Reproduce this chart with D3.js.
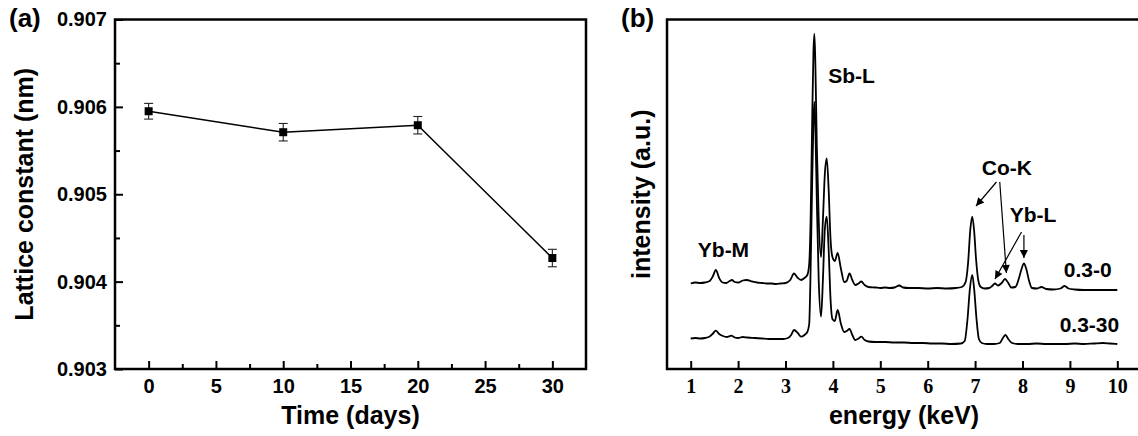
<!DOCTYPE html>
<html lang="en">
<head>
<meta charset="UTF-8">
<title>Lattice constant and EDS spectra</title>
<script src="https://d3js.org/d3.v7.min.js"></script>
<style>
  body { margin: 0; background: #fff; }
  svg { display: block; font-family: "Liberation Sans", Arial, sans-serif; font-weight: bold; }
  .frame { fill: none; stroke: #000; stroke-width: 2.5px; }
  .domain { display: none; }
  .tick line { stroke: #000; stroke-width: 2px; }
  .axA text { font-size: 20px; fill: #000; }
  .axB text { font-family: "Liberation Serif", "Times New Roman", serif; font-size: 20px; fill: #000; }
  .title { font-size: 25px; }
  .panel { font-size: 26px; }
  .note { font-size: 21px; }
  .spec { fill: none; stroke: #000; stroke-width: 1.8px; }
  .arrow { stroke: #000; stroke-width: 1.2px; }
</style>
</head>
<body>
<svg width="1138" height="436"></svg>
<script>
// panel (a): lattice constant vs time
const days = [0, 10, 20, 30];
const lattice = [0.90595, 0.90571, 0.90579, 0.90427];
const latticeErr = [0.00009, 0.0001, 0.0001, 0.0001];
const dayTicks = [0, 5, 10, 15, 20, 25, 30];
const latticeTicks = [0.903, 0.904, 0.905, 0.906, 0.907];

// panel (b): EDS spectra, [energy keV, intensity a.u.] (0.3-0 shifted up)
const spec0 = [
  [1.00, 85.5], [1.10, 86.5], [1.20, 86], [1.30, 86.5], [1.40, 88], [1.47, 93], [1.53, 99],
  [1.60, 91], [1.67, 86.5], [1.75, 86], [1.82, 88], [1.87, 89], [1.93, 87], [2.00, 86.5],
  [2.10, 88.5], [2.18, 89], [2.30, 87.5], [2.40, 86.5], [2.50, 86], [2.60, 85.5], [2.70, 85.5],
  [2.80, 85], [2.90, 85.5], [3.00, 86], [3.10, 89], [3.18, 95.5], [3.26, 91], [3.33, 89],
  [3.40, 91], [3.46, 94], [3.50, 105], [3.53, 150], [3.56, 240], [3.59, 318], [3.61, 335],
  [3.63, 305], [3.66, 225], [3.70, 150], [3.75, 112], [3.79, 150], [3.83, 195], [3.87, 210.7],
  [3.91, 180], [3.95, 130], [3.99, 112], [4.04, 108], [4.10, 116], [4.17, 100], [4.24, 87],
  [4.29, 88], [4.35, 95.5], [4.41, 89], [4.47, 84], [4.54, 85.5], [4.60, 87.5], [4.67, 84],
  [4.75, 82], [4.90, 81.5], [5.00, 81], [5.10, 81.5], [5.20, 81], [5.30, 81.5], [5.40, 83.5],
  [5.48, 81.5], [5.60, 81], [5.80, 81], [6.00, 80.5], [6.20, 81], [6.40, 80.5], [6.60, 81],
  [6.72, 82], [6.80, 87], [6.85, 105], [6.90, 140], [6.94, 152.3], [6.98, 138], [7.02, 110],
  [7.07, 88], [7.12, 82], [7.20, 80.5], [7.30, 81], [7.36, 83], [7.42, 85.5], [7.48, 83.5],
  [7.56, 86], [7.63, 90], [7.70, 86], [7.76, 81.5], [7.85, 82], [7.92, 90], [7.98, 100],
  [8.03, 105.7], [8.08, 100], [8.14, 88], [8.20, 81], [8.30, 80.5], [8.40, 82], [8.50, 80],
  [8.65, 79.5], [8.80, 80.5], [8.89, 83], [8.97, 80.5], [9.10, 79.5], [9.30, 79], [9.50, 79],
  [9.70, 79], [9.90, 79], [10.00, 79]
];
const spec30 = [
  [1.00, 30.5], [1.10, 31], [1.20, 30.5], [1.30, 31], [1.40, 32.5], [1.46, 35], [1.53, 38.3],
  [1.60, 35], [1.68, 33], [1.76, 32], [1.86, 33.3], [1.93, 31.5], [2.00, 31], [2.10, 32],
  [2.20, 31.5], [2.35, 31], [2.50, 30.5], [2.65, 30], [2.80, 30], [2.95, 30], [3.05, 31],
  [3.12, 34], [3.18, 39], [3.26, 36], [3.33, 32.3], [3.40, 34], [3.46, 37], [3.50, 45],
  [3.53, 100], [3.56, 180], [3.59, 248], [3.61, 267], [3.63, 242], [3.66, 170], [3.70, 90],
  [3.75, 52.3], [3.79, 90], [3.83, 140], [3.87, 152.3], [3.91, 120], [3.95, 70], [3.99, 50],
  [4.04, 48], [4.10, 59], [4.17, 45], [4.24, 37], [4.29, 38], [4.35, 40], [4.41, 34],
  [4.47, 29], [4.54, 30.5], [4.60, 32.3], [4.67, 29], [4.75, 27.5], [4.90, 27], [5.10, 27],
  [5.30, 26.5], [5.50, 26.5], [5.70, 26], [5.90, 26], [6.10, 25.5], [6.30, 25.5], [6.50, 25],
  [6.70, 25.5], [6.78, 28], [6.84, 50], [6.89, 80], [6.94, 94], [6.98, 80], [7.03, 50],
  [7.08, 30], [7.14, 26], [7.25, 25], [7.40, 25], [7.52, 26], [7.60, 32], [7.64, 34],
  [7.70, 30], [7.78, 26], [7.90, 25], [8.10, 25], [8.30, 25.5], [8.50, 25], [8.70, 25],
  [8.90, 25], [9.10, 25.5], [9.30, 25], [9.50, 25.5], [9.70, 26], [9.85, 25.5], [10.00, 25]
];
const energyTicks = [1, 2, 3, 4, 5, 6, 7, 8, 9, 10];

// annotations in data units
const peakNotes = [
  {text: "Sb-L", e: 3.90, i: 286, anchor: "start"},
  {text: "Yb-M", e: 1.15, i: 112, anchor: "start"},
  {text: "Co-K", e: 7.14, i: 194, anchor: "start"},
  {text: "Yb-L", e: 7.73, i: 147, anchor: "start"},
  {text: "0.3-0", e: 9.88, i: 92, anchor: "end"},
  {text: "0.3-30", e: 10.04, i: 37, anchor: "end"}
];
const arrows = [
  [7.45, 187, 7.02, 163],
  [7.52, 187, 7.66, 96],
  [7.98, 137, 7.42, 90],
  [8.03, 134, 8.03, 111]
];

const svg = d3.select("svg");

svg.append("defs").append("marker")
  .attr("id", "head").attr("viewBox", "0 0 10 10")
  .attr("refX", 10).attr("refY", 5)
  .attr("markerWidth", 10).attr("markerHeight", 8)
  .attr("markerUnits", "userSpaceOnUse")
  .attr("orient", "auto")
  .append("path").attr("d", "M0,0L10,5L0,10Z").attr("fill", "#000");

// ---------- panel (a) ----------
const ax = {left: 115, right: 586, top: 19.5, bottom: 369};
const xA = d3.scaleLinear().domain([-2.5, 32.5]).range([ax.left, ax.right]);
const yA = d3.scaleLinear().domain([0.903, 0.907]).range([ax.bottom, ax.top]);

const gA = svg.append("g");

gA.append("g").attr("class", "axA")
  .attr("transform", "translate(0," + ax.bottom + ")")
  .call(d3.axisBottom(xA).tickValues(dayTicks).tickSize(-8).tickPadding(10).tickFormat(d3.format("d")));
gA.append("g").attr("class", "axA")
  .attr("transform", "translate(0," + ax.bottom + ")")
  .call(d3.axisBottom(xA).tickValues(d3.range(2.5, 30, 5)).tickSize(-5).tickFormat(""));
gA.append("g").attr("class", "axA")
  .attr("transform", "translate(" + ax.left + ",0)")
  .call(d3.axisLeft(yA).tickValues(latticeTicks).tickSize(-8).tickPadding(8).tickFormat(d3.format(".3f")));
gA.append("g").attr("class", "axA")
  .attr("transform", "translate(" + ax.left + ",0)")
  .call(d3.axisLeft(yA).tickValues(d3.range(0.9035, 0.907, 0.001)).tickSize(-5).tickFormat(""));

gA.append("rect").attr("class", "frame")
  .attr("x", ax.left).attr("y", ax.top)
  .attr("width", ax.right - ax.left).attr("height", ax.bottom - ax.top);

const pts = days.map((d, k) => ({d: d, v: lattice[k], e: latticeErr[k]}));

gA.append("path").datum(pts)
  .attr("fill", "none").attr("stroke", "#000").attr("stroke-width", 1.5)
  .attr("d", d3.line().x(p => xA(p.d)).y(p => yA(p.v)));

const eb = gA.append("g").attr("stroke", "#222").attr("stroke-width", 1.1);
pts.forEach(p => {
  const x = xA(p.d);
  eb.append("line").attr("x1", x).attr("x2", x).attr("y1", yA(p.v - p.e)).attr("y2", yA(p.v + p.e));
  [p.v - p.e, p.v + p.e].forEach(v => {
    eb.append("line").attr("x1", x - 4.5).attr("x2", x + 4.5).attr("y1", yA(v)).attr("y2", yA(v));
  });
});

gA.selectAll("rect.pt").data(pts).join("rect").attr("class", "pt")
  .attr("x", p => xA(p.d) - 4).attr("y", p => yA(p.v) - 4)
  .attr("width", 8).attr("height", 8).attr("fill", "#000");

gA.append("text").attr("class", "title")
  .attr("x", (ax.left + ax.right) / 2).attr("y", 424)
  .attr("text-anchor", "middle").text("Time (days)");
gA.append("text").attr("class", "title")
  .attr("transform", "translate(33," + ((ax.top + ax.bottom) / 2) + ") rotate(-90)")
  .attr("text-anchor", "middle").text("Lattice constant (nm)");
gA.append("text").attr("class", "panel").attr("x", 9).attr("y", 27).text("(a)");

// ---------- panel (b) ----------
const bx = {left: 667, right: 1141, top: 19.5, bottom: 369};
const xB = d3.scaleLinear().domain([0.5, 10.5]).range([bx.left, bx.right]);
const yB = d3.scaleLinear().domain([0, 349.5]).range([bx.bottom, bx.top]);

const gB = svg.append("g");

gB.append("g").attr("class", "axB")
  .attr("transform", "translate(0," + bx.bottom + ")")
  .call(d3.axisBottom(xB).tickValues(energyTicks).tickSize(-8).tickPadding(10).tickFormat(d3.format("d")));

gB.append("rect").attr("class", "frame")
  .attr("x", bx.left).attr("y", bx.top)
  .attr("width", bx.right - bx.left).attr("height", bx.bottom - bx.top);

const specLine = d3.line().curve(d3.curveMonotoneX).x(d => xB(d[0])).y(d => yB(d[1]));
gB.append("path").attr("class", "spec").attr("d", specLine(spec30));
gB.append("path").attr("class", "spec").attr("d", specLine(spec0));

gB.selectAll("line.arrow").data(arrows).join("line").attr("class", "arrow")
  .attr("x1", a => xB(a[0])).attr("y1", a => yB(a[1]))
  .attr("x2", a => xB(a[2])).attr("y2", a => yB(a[3]))
  .attr("marker-end", "url(#head)");

gB.selectAll("text.note").data(peakNotes).join("text").attr("class", "note")
  .attr("x", n => xB(n.e)).attr("y", n => yB(n.i))
  .attr("text-anchor", n => n.anchor).text(n => n.text);

gB.append("text").attr("class", "title")
  .attr("x", (bx.left + bx.right) / 2).attr("y", 424)
  .attr("text-anchor", "middle").text("energy (keV)");
gB.append("text").attr("class", "title")
  .attr("transform", "translate(650," + ((bx.top + bx.bottom) / 2) + ") rotate(-90)")
  .attr("text-anchor", "middle").text("intensity (a.u.)");
gB.append("text").attr("class", "panel").attr("x", 621).attr("y", 27).text("(b)");
</script>
</body>
</html>
